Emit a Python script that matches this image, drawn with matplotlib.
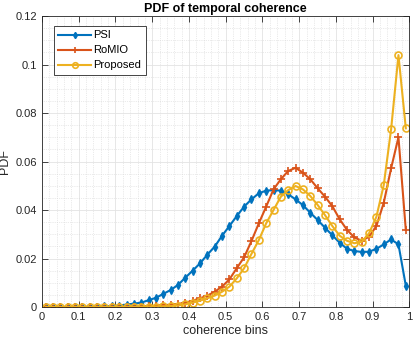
import numpy as np
import matplotlib
matplotlib.use("Agg")
import matplotlib.pyplot as plt

plt.rcParams['font.family'] = ['Liberation Sans', 'DejaVu Sans']

# bin centres of the coherence histogram (50 bins on [0, 1])
bins = np.arange(0.01, 1.0, 0.02)

psi = [0, 0, 0, 0, 0, 0, 0.0001, 0.0002, 0.0003, 0.0004,
       0.0006, 0.001, 0.0014, 0.0018, 0.0028, 0.0038, 0.0054, 0.007, 0.0091, 0.0121,
       0.015, 0.018, 0.0216, 0.0249, 0.0294, 0.0334, 0.0375, 0.0414, 0.0444, 0.0469,
       0.048, 0.0482, 0.048, 0.0465, 0.0444, 0.042, 0.0389, 0.0359, 0.0327, 0.0296,
       0.0265, 0.024, 0.0231, 0.0227, 0.0228, 0.024, 0.0258, 0.0279, 0.0258, 0.0088]
romio = [0, 0, 0, 0, 0, 0, 0, 0, 0, 0,
         0, 0.0001, 0.0001, 0.0002, 0.0003, 0.0005, 0.0007, 0.0009, 0.0012, 0.0018,
         0.0026, 0.0036, 0.0047, 0.0063, 0.0084, 0.0114, 0.016, 0.0205, 0.0272, 0.0345,
         0.0414, 0.0485, 0.0527, 0.0561, 0.0574, 0.0554, 0.0527, 0.049, 0.0455, 0.0416,
         0.0362, 0.0318, 0.0287, 0.0273, 0.029, 0.0334, 0.043, 0.0572, 0.07, 0.0318]
proposed = [0, 0, 0, 0, 0, 0, 0, 0, 0, 0,
            0, 0, 0, 0.0001, 0.0002, 0.0002, 0.0003, 0.0004, 0.0006, 0.0011,
            0.0018, 0.0026, 0.0036, 0.0047, 0.0063, 0.0084, 0.0118, 0.016, 0.0219, 0.0276,
            0.0345, 0.04, 0.0455, 0.0482, 0.0499, 0.0485, 0.0458, 0.0421, 0.0379, 0.0334,
            0.0294, 0.0273, 0.0263, 0.0269, 0.0304, 0.0372, 0.0503, 0.0733, 0.1039, 0.0737]

xticks = [0, 0.1, 0.2, 0.3, 0.4, 0.5, 0.6, 0.7, 0.8, 0.9, 1]
xticklabels = ['0', '0.1', '0.2', '0.3', '0.4', '0.5', '0.6', '0.7', '0.8', '0.9', '1']
yticks = [0, 0.02, 0.04, 0.06, 0.08, 0.1, 0.12]
yticklabels = ['0', '0.02', '0.04', '0.06', '0.08', '0.1', '0.12']

fig = plt.figure(figsize=(4.15, 3.41), dpi=100)
ax = fig.add_axes([0.1012, 0.0997, 0.8855, 0.8533])

ax.plot(bins, psi, '-d', color='#0072BD', lw=1.5, ms=4, mfc='#0072BD', label='PSI')
ax.plot(bins, romio, '-+', color='#D95319', lw=1.5, ms=6, mew=1.2, label='RoMIO')
ax.plot(bins, proposed, '-o', color='#EDB120', lw=1.5, ms=5, mfc='none', mew=1.2, label='Proposed')

ax.set_xlim(0, 1)
ax.set_ylim(0, 0.12)
ax.set_xticks(xticks)
ax.set_xticklabels(xticklabels)
ax.set_yticks(yticks)
ax.set_yticklabels(yticklabels)
ax.set_xticks(np.arange(0, 1.001, 0.02), minor=True)
ax.set_yticks(np.arange(0, 0.1201, 0.005), minor=True)

ax.grid(True, which='major', color='#e3e3e3', lw=0.6, ls='-')
ax.grid(True, which='minor', color='#d6d6d6', lw=0.5, ls=':')
ax.set_axisbelow(True)

ax.tick_params(which='major', direction='in', length=4, width=0.6, top=True, right=True,
               labelsize=8, colors='#262626')
ax.tick_params(which='minor', length=0, top=True, right=True)
for s in ax.spines.values():
    s.set_color('#262626')
    s.set_linewidth(0.6)

ax.set_xlabel('coherence bins', fontsize=9, color='#262626', labelpad=2)
ax.set_ylabel('PDF', fontsize=9, color='#262626', labelpad=3)
ax.set_title('PDF of temporal coherence', fontsize=9, fontweight='bold', pad=3)

leg = ax.legend(loc='upper left', bbox_to_anchor=(0.0326, 0.9656), borderaxespad=0,
                fontsize=8, fancybox=False, framealpha=1, edgecolor='#262626',
                handlelength=2.9, handletextpad=0.25, borderpad=0.4, labelspacing=0.45,
                markerscale=0.8)
leg.get_frame().set_linewidth(0.6)

fig.savefig('out.png', dpi=100)
